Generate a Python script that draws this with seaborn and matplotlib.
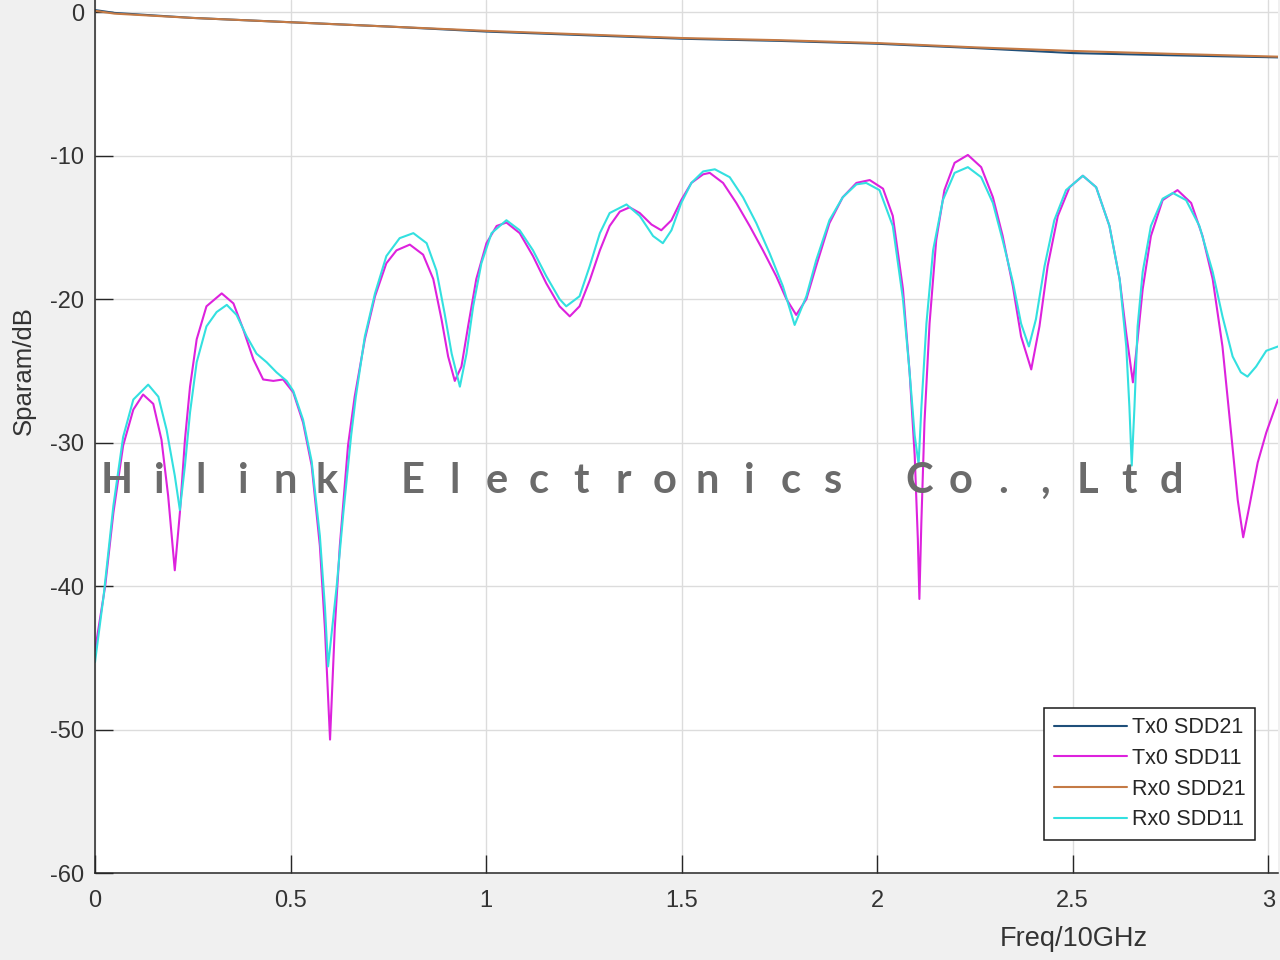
import numpy as np
import pandas as pd
import matplotlib
matplotlib.use("Agg")
import matplotlib.pyplot as plt
import seaborn as sns

# --------------------------------------------------
# Data (Freq in units of 10 GHz, values in dB)
# --------------------------------------------------
sdd21_f = [0.0, 0.05, 0.25, 0.5, 0.75, 1.0, 1.25, 1.5, 1.75, 2.0, 2.25, 2.5, 2.75, 3.025]
tx_sdd21 = [0.15, -0.05, -0.4, -0.7, -1.0, -1.35, -1.6, -1.85, -2.0, -2.2, -2.5, -2.85, -3.0, -3.15]
rx_sdd21 = [0.1, -0.1, -0.4, -0.7, -1.0, -1.3, -1.55, -1.8, -1.95, -2.15, -2.45, -2.7, -2.9, -3.1]

tx_sdd11_f = [0.000, 0.026, 0.047, 0.072, 0.098, 0.123, 0.149, 0.170, 0.187, 0.204,
              0.217, 0.230, 0.243, 0.260, 0.285, 0.324, 0.354, 0.379, 0.405, 0.430,
              0.456, 0.481, 0.507, 0.532, 0.554, 0.575, 0.588, 0.601, 0.613, 0.626,
              0.647, 0.664, 0.690, 0.716, 0.745, 0.771, 0.805, 0.839, 0.865, 0.886,
              0.903, 0.920, 0.937, 0.954, 0.975, 1.001, 1.027, 1.052, 1.086, 1.120,
              1.154, 1.188, 1.214, 1.239, 1.265, 1.291, 1.316, 1.342, 1.367, 1.393,
              1.423, 1.448, 1.474, 1.499, 1.525, 1.555, 1.572, 1.606, 1.640, 1.674,
              1.708, 1.742, 1.768, 1.793, 1.819, 1.844, 1.878, 1.912, 1.947, 1.981,
              2.015, 2.040, 2.066, 2.083, 2.096, 2.104, 2.108, 2.113, 2.121, 2.134,
              2.151, 2.172, 2.198, 2.232, 2.266, 2.296, 2.321, 2.347, 2.368, 2.394,
              2.415, 2.436, 2.462, 2.492, 2.526, 2.560, 2.594, 2.620, 2.637, 2.654,
              2.666, 2.679, 2.700, 2.730, 2.768, 2.803, 2.832, 2.858, 2.883, 2.905,
              2.922, 2.936, 2.952, 2.973, 2.995, 3.025]
tx_sdd11 = [-44.5, -40.0, -34.9, -30.2, -27.7, -26.65, -27.3, -29.8, -33.7, -38.9,
            -34.9, -29.8, -26.1, -22.8, -20.5, -19.6, -20.3, -22.1, -24.2, -25.6,
            -25.7, -25.6, -26.5, -28.6, -31.6, -37.2, -43.0, -50.7, -43.0, -37.2,
            -30.2, -26.8, -22.8, -19.8, -17.5, -16.6, -16.2, -16.9, -18.6, -21.4,
            -24.0, -25.7, -24.7, -21.9, -18.6, -16.1, -14.9, -14.66, -15.4, -17.0,
            -18.9, -20.5, -21.2, -20.5, -18.7, -16.6, -14.9, -13.9, -13.6, -14.0,
            -14.8, -15.2, -14.5, -13.1, -11.9, -11.3, -11.2, -11.9, -13.3, -14.9,
            -16.6, -18.4, -20.0, -21.1, -20.0, -17.7, -14.7, -12.9, -11.9, -11.7,
            -12.3, -14.2, -19.3, -25.1, -30.9, -36.7, -40.9, -35.6, -28.6, -21.7,
            -15.9, -12.4, -10.5, -9.95, -10.8, -12.9, -15.6, -19.1, -22.6, -24.9,
            -21.9, -17.7, -14.2, -12.2, -11.4, -12.2, -14.9, -18.6, -22.4, -25.8,
            -22.8, -19.3, -15.6, -13.1, -12.4, -13.3, -15.6, -18.6, -23.3, -29.3,
            -34.0, -36.6, -34.4, -31.4, -29.3, -27.0]

rx_sdd11_f = [0.000, 0.022, 0.047, 0.072, 0.098, 0.136, 0.162, 0.183, 0.204, 0.217,
              0.230, 0.243, 0.260, 0.285, 0.311, 0.337, 0.362, 0.388, 0.413, 0.439,
              0.464, 0.490, 0.507, 0.532, 0.554, 0.575, 0.588, 0.596, 0.618, 0.635,
              0.655, 0.667, 0.690, 0.716, 0.745, 0.779, 0.814, 0.848, 0.873, 0.894,
              0.912, 0.933, 0.950, 0.967, 0.988, 1.014, 1.052, 1.086, 1.120, 1.154,
              1.188, 1.205, 1.239, 1.265, 1.291, 1.316, 1.359, 1.393, 1.427, 1.452,
              1.474, 1.499, 1.525, 1.555, 1.585, 1.623, 1.657, 1.691, 1.725, 1.759,
              1.789, 1.819, 1.844, 1.878, 1.912, 1.947, 1.972, 2.006, 2.040, 2.066,
              2.083, 2.096, 2.106, 2.113, 2.126, 2.143, 2.168, 2.198, 2.232, 2.266,
              2.296, 2.321, 2.347, 2.368, 2.388, 2.406, 2.428, 2.453, 2.483, 2.526,
              2.560, 2.594, 2.620, 2.637, 2.645, 2.651, 2.658, 2.666, 2.679, 2.700,
              2.730, 2.756, 2.790, 2.824, 2.858, 2.883, 2.909, 2.930, 2.947, 2.969,
              2.995, 3.025]
rx_sdd11 = [-45.3, -40.7, -34.4, -29.6, -27.0, -25.96, -26.8, -29.1, -32.3, -34.7,
            -31.6, -27.9, -24.4, -21.9, -20.9, -20.4, -21.1, -22.6, -23.8, -24.4,
            -25.1, -25.7, -26.4, -28.4, -31.3, -36.5, -41.5, -45.6, -40.0, -34.9,
            -29.5, -26.8, -22.6, -19.6, -17.0, -15.75, -15.4, -16.1, -18.0, -21.0,
            -23.8, -26.1, -23.8, -20.5, -17.5, -15.4, -14.5, -15.2, -16.6, -18.4,
            -20.0, -20.5, -19.8, -17.7, -15.4, -14.0, -13.4, -14.2, -15.6, -16.1,
            -15.2, -13.3, -11.9, -11.1, -10.95, -11.5, -12.9, -14.7, -16.8, -19.1,
            -21.8, -19.8, -17.3, -14.5, -12.9, -12.0, -11.9, -12.4, -14.9, -20.0,
            -25.1, -29.5, -31.5, -27.6, -21.7, -16.6, -13.1, -11.2, -10.8, -11.5,
            -13.3, -15.9, -18.8, -21.7, -23.3, -21.4, -17.7, -14.5, -12.4, -11.4,
            -12.2, -14.9, -18.6, -23.3, -27.5, -31.6, -27.5, -21.9, -18.1, -14.9,
            -13.0, -12.6, -13.1, -14.9, -18.1, -21.2, -24.0, -25.1, -25.4, -24.7,
            -23.6, -23.3]

x_ticks = [0, 0.5, 1, 1.5, 2, 2.5, 3]
x_ticklabels = ['0', '0.5', '1', '1.5', '2', '2.5', '3']
y_ticks = [-60, -50, -40, -30, -20, -10, 0]
y_ticklabels = ['-60', '-50', '-40', '-30', '-20', '-10', '0']

watermark_words = ['Hilink', 'Electronics', 'Co.,Ltd']

# --------------------------------------------------
# Style
# --------------------------------------------------
sns.set_theme(style="ticks")
plt.rcParams['font.family'] = ['Liberation Sans', 'DejaVu Sans']

fig = plt.figure(figsize=(12.8, 9.6), dpi=100, facecolor='#f0f0f0')
ax = fig.add_axes([95 / 1280, 87 / 960, 1183 / 1280, 873 / 960])
ax.set_facecolor('white')

# --------------------------------------------------
# Curves
# --------------------------------------------------
series = [
    (sdd21_f, tx_sdd21, 'Tx0 SDD21', '#1f4f7a'),
    (tx_sdd11_f, tx_sdd11, 'Tx0 SDD11', '#dd22dd'),
    (sdd21_f, rx_sdd21, 'Rx0 SDD21', '#c47a45'),
    (rx_sdd11_f, rx_sdd11, 'Rx0 SDD11', '#33e0e0'),
]
for f, v, name, col in series:
    df = pd.DataFrame({'freq': f, 'db': v})
    sns.lineplot(data=df, x='freq', y='db', ax=ax, color=col, lw=1.5,
                 label=name, sort=False, estimator=None)

# --------------------------------------------------
# Axes
# --------------------------------------------------
ax.set_xlim(0, 3.025)
ax.set_ylim(-60, 0.85)
ax.set_xticks(x_ticks)
ax.set_xticklabels(x_ticklabels)
ax.set_yticks(y_ticks)
ax.set_yticklabels(y_ticklabels)
ax.grid(True, color='#dcdcdc', lw=1.0)
ax.set_axisbelow(True)

for side in ['top', 'right']:
    ax.spines[side].set_visible(False)
for side in ['left', 'bottom']:
    ax.spines[side].set_color('#262626')
    ax.spines[side].set_linewidth(1.1)

ax.tick_params(direction='in', length=13, width=1.0, color='#262626',
               labelsize=17, labelcolor='#333333')
ax.tick_params(axis='x', pad=12)
ax.tick_params(axis='y', pad=8)

ax.set_xlabel('Freq/10GHz', fontsize=19.5, color='#333333')
ax.set_ylabel('Sparam/dB', fontsize=18.5, color='#333333')
ax.xaxis.set_label_coords(0.827, -0.061)
ax.yaxis.set_label_coords(-0.05, 0.576)

leg = ax.legend(loc='lower right', bbox_to_anchor=(0.9805, 0.0378), borderaxespad=0,
                fontsize=15.5, frameon=True, fancybox=False, handlelength=3.4,
                labelspacing=0.45, handletextpad=0.2, borderpad=0.45)
leg.get_frame().set_edgecolor('#1a1a1a')
leg.get_frame().set_linewidth(1.1)
leg.get_frame().set_alpha(1)
for t in leg.get_texts():
    t.set_color('#262626')

# --------------------------------------------------
# Watermark: letters spread with wide tracking
# --------------------------------------------------
pitch = 42 / 1280
word_gap = 44 / 1280
cx = 117 / 1280
for w_i, word in enumerate(watermark_words):
    if w_i > 0:
        cx += word_gap
    for ch in word:
        fig.text(cx, 1 - 481 / 960, ch, ha='center', va='center', fontsize=30,
                 fontweight='bold', color='#6b6b6b', family=['Lato', 'DejaVu Sans'],
                 zorder=5)
        cx += pitch

fig.savefig('out.png', dpi=100, facecolor=fig.get_facecolor())
